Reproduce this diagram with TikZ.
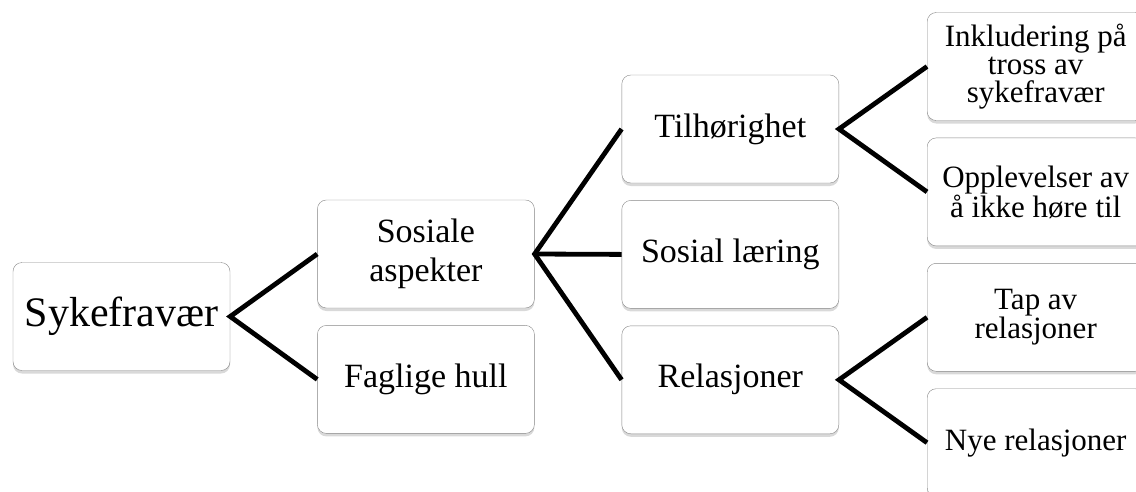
\documentclass[tikz,border=0pt]{standalone}
\usepackage{fontspec}
\setmainfont{Liberation Serif}
\usepackage{tikz}
\usetikzlibrary{positioning,shadows}
\definecolor{boxclr}{RGB}{135,135,135}
\tikzset{
  box/.style={rectangle,draw=boxclr,thin,fill=white,rounded corners=9pt,
              minimum width=217pt,minimum height=108pt,inner sep=2pt,align=center,
              drop shadow={shadow xshift=0pt,shadow yshift=-3pt,opacity=0.3}},
  rootbox/.style={box,font=\fontsize{42}{48}\selectfont},
  midbox/.style={box,font=\fontsize{34}{39}\selectfont},
  leafbox/.style={box,font=\fontsize{31}{28}\selectfont},
  link/.style={line width=4.8pt,line join=miter},
}

\begin{document}
\begin{tikzpicture}[x=1pt,y=-1pt,node distance=17pt and 87pt]
\useasboundingbox (0,0) rectangle (1136,491);
\clip (0,0) rectangle (1136,491);
\node[rootbox] (syk) at (121.5,316.5) {Sykefravær};
\node[midbox, right=of syk, yshift=62.5pt] (sos) {Sosiale\\aspekter};
\node[midbox, below=of sos] (fag) {Faglige hull};
\node[midbox, right=of sos, yshift=125pt] (tilh) {Tilhørighet};
\node[midbox, below=of tilh] (laer) {Sosial læring};
\node[midbox, below=of laer] (rel) {Relasjoner};
\node[leafbox, right=88pt of tilh, yshift=62.5pt] (inkl) {Inkludering på\\tross av\\sykefravær};
\node[leafbox, below=of inkl] (oppl) {Opplevelser av\\å ikke høre til};
\node[leafbox, right=88pt of rel, yshift=62.5pt] (tap) {Tap av\\relasjoner};
\node[leafbox, below=of tap] (nye) {Nye relasjoner};
\draw[link] (sos.west) -- (syk.east) -- (fag.west);
\draw[link] (tilh.west) -- (sos.east) -- (rel.west);
\draw[link] (sos.east) -- (laer.west);
\draw[link] (inkl.west) -- (tilh.east) -- (oppl.west);
\draw[link] (tap.west) -- (rel.east) -- (nye.west);
\end{tikzpicture}
\end{document}
